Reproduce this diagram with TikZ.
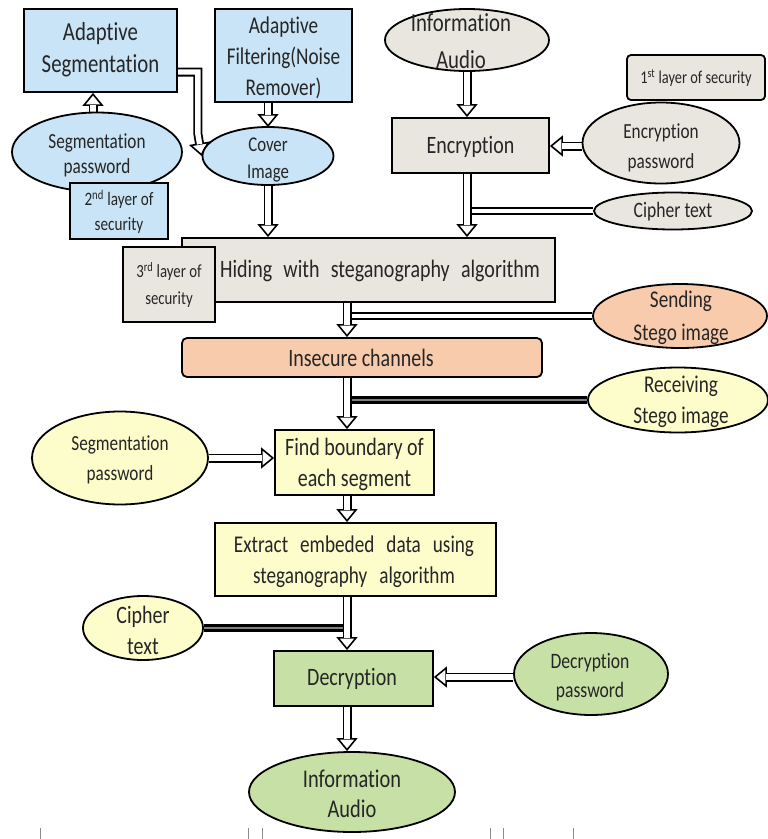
\documentclass[tikz,border=0pt]{standalone}
\usepackage{fontspec}
\setmainfont[FakeStretch=0.8, Ligatures=NoCommon, RawFeature={-liga;-clig}]{Carlito}
\usetikzlibrary{shapes.geometric,arrows.meta}
\pgfdeclarelayer{bottom}
\pgfdeclarelayer{links}
\pgfsetlayers{bottom,links,main}
\definecolor{blueF}{HTML}{C8E4F6}
\definecolor{grayF}{HTML}{E8E6DF}
\definecolor{orangeF}{HTML}{F8CBAD}
\definecolor{yellowF}{HTML}{FDFCCB}
\definecolor{greenF}{HTML}{C6E0A6}
\newcommand{\fsz}[2]{\fontsize{#1}{#2}\selectfont}
\newcommand{\wsp}[1]{\spaceskip=#1em plus 0pt minus 0pt\relax}
\begin{document}
\begin{tikzpicture}[x=1pt,y=-1pt,
  box/.style={draw=black, line width=1.8pt, inner sep=0pt, rectangle},
  ell/.style={draw=black, line width=1.8pt, inner sep=0pt, ellipse},
  txt/.style={align=center, inner sep=0pt, text=black!85},
  harr/.style={line width=9pt, -{Triangle[open,fill=white,length=13pt,width=21pt,line width=1.6pt]},
     postaction={draw=white, line width=5.4pt, -, shorten >=12pt}},
  dline/.style={line width=8pt, postaction={draw=white, line width=3.6pt}},
  dlinedark/.style={line width=8.5pt, postaction={draw=black!50, line width=2pt}}]
\useasboundingbox (0,0) rectangle (768,839);
\begin{pgfonlayer}{bottom}
\fill[white] (0,0) rectangle (768,839);
\end{pgfonlayer}
\coordinate (spine) at (347,0);

% ---------- top left (blue) ----------
\node[box, fill=blueF, minimum width=153pt, minimum height=83pt] (seg) at (100.5,50.5) {};
\node[txt, font=\fsz{26}{32}] (seg-t) at (100.5,50) {Adaptive\\Segmentation};
\node[box, fill=blueF, minimum width=137pt, minimum height=93pt] (filt) at (283.5,55.5) {};
\node[txt, font=\fsz{24}{31}] (filt-t) at (283.5,58) {Adaptive\\Filtering(Noise\\Remover)};
\node[ell, fill=blueF, minimum width=170pt, minimum height=79pt] (segpw) at (97,152) {};
\node[txt, font=\fsz{21.5}{25}] (segpw-t) at (97,155) {Segmentation\\password};
\node[box, fill=blueF, minimum width=98pt, minimum height=56pt] (l2) at (119,211) {};
\node[txt, font=\fsz{19}{25}] (l2-t) at (119,212) {2\textsuperscript{nd} layer of\\security};
\node[ell, fill=blueF, minimum width=131pt, minimum height=58pt] (cover) at (268,156) {};
\node[txt, font=\fsz{21}{27}] (cover-t) at (268,160) {Cover\\Image};

% ---------- top right (gray) ----------
\node[ell, fill=grayF, minimum width=164pt, minimum height=62pt] (ia1) at (467,40) {};
\node[txt, font=\fsz{26}{37}] (ia1-t) at (461,41) {Information\\Audio};
\node[box, fill=grayF, rounded corners=4pt, minimum width=138pt, minimum height=45pt] (l1) at (696,77.5) {};
\node[txt, font=\fsz{18}{22}] (l1-t) at (696,78) {1\textsuperscript{st} layer of security};
\node[box, fill=grayF, minimum width=157pt, minimum height=55pt] (enc) at (470.5,145.5) {};
\node[txt, font=\fsz{25}{30}] (enc-t) at (470.5,147) {Encryption};
\node[ell, fill=grayF, minimum width=157pt, minimum height=81pt] (encpw) at (661,143) {};
\node[txt, font=\fsz{21.5}{30}] (encpw-t) at (661,148) {Encryption\\password};
\node[ell, fill=grayF, minimum width=158pt, minimum height=37pt] (ct1) at (673,211) {};
\node[txt, font=\fsz{22}{26}] (ct1-t) at (673,212) {Cipher text};

% ---------- hiding ----------
\node[box, fill=grayF, minimum width=373pt, minimum height=64pt] (hid) at (368.5,270) {};
\node[txt, font=\fsz{25}{30}] (hid-t) at (380,271) {\wsp{0.45}Hiding with steganography algorithm};
\node[box, fill=grayF, minimum width=92pt, minimum height=75pt] (l3) at (169,284.5) {};
\node[txt, font=\fsz{18.5}{27}] (l3-t) at (169,285) {3\textsuperscript{rd} layer of\\security};

% ---------- channel ----------
\node[ell, fill=orangeF, minimum width=174pt, minimum height=64pt] (send) at (680,316) {};
\node[txt, font=\fsz{24}{33}] (send-t) at (681,318) {Sending\\Stego image};
\node[box, fill=orangeF, rounded corners=5pt, minimum width=360pt, minimum height=39pt] (ins) at (362,357.5) {};
\node[txt, font=\fsz{25}{30}] (ins-t) at (361,358) {Insecure channels};
\node[ell, fill=yellowF, minimum width=180pt, minimum height=65pt] (recv) at (678,400) {};
\node[txt, font=\fsz{24}{31}] (recv-t) at (681,402) {Receiving\\Stego image};

% ---------- extraction (yellow) ----------
\node[ell, fill=yellowF, minimum width=176pt, minimum height=93pt] (segpw2) at (120,458) {};
\node[txt, font=\fsz{21.5}{30}] (segpw2-t) at (120,460) {Segmentation\\password};
\node[box, fill=yellowF, minimum width=159pt, minimum height=65pt] (find) at (354.5,462.5) {};
\node[txt, font=\fsz{25}{31}] (find-t) at (354.5,464) {Find boundary of\\each segment};
\node[box, fill=yellowF, minimum width=281pt, minimum height=73pt] (ext) at (355.5,559.5) {};
\node[txt, font=\fsz{24}{31}] (ext-t) at (354,562) {\wsp{0.5}Extract embeded data using\\\wsp{0.5}steganography algorithm};
\node[ell, fill=yellowF, minimum width=120pt, minimum height=64pt] (ct2) at (143,628) {};
\node[txt, font=\fsz{25}{31}] (ct2-t) at (143,630) {Cipher\\text};

% ---------- decryption (green) ----------
\node[box, fill=greenF, minimum width=159pt, minimum height=55pt] (dec) at (353.5,678.5) {};
\node[txt, font=\fsz{25}{30}] (dec-t) at (352,679) {Decryption};
\node[ell, fill=greenF, minimum width=154pt, minimum height=82pt] (decpw) at (591,674) {};
\node[txt, font=\fsz{22}{29}] (decpw-t) at (590,677) {Decryption\\password};
\node[ell, fill=greenF, minimum width=206pt, minimum height=80pt] (ia2) at (352,792) {};
\node[txt, font=\fsz{25.5}{30}] (ia2-t) at (352,794) {Information\\Audio};

% ---------- connectors ----------
\begin{pgfonlayer}{links}
\draw[harr] ([xshift=-4pt]segpw.north) -- ([xshift=-4pt]segpw.north |- seg.south);
\draw[harr] ([yshift=-21.5pt]seg.east) -- ++(20,0) -- ++(0,62) -- (cover.west);
\draw[harr] (cover.north |- filt.south) -- ([yshift=-1pt]cover.north);
\draw[harr] (cover.south) -- (cover.south |- hid.north);
\draw[harr] (ia1.south) -- (ia1.south |- enc.north);
\draw[harr] ([yshift=-3pt]encpw.west) -- ([yshift=-3pt]encpw.west -| enc.east);
\draw[dline] (ct1.west) -- ([xshift=1pt]ct1.west -| ia1.south);
\draw[harr] (enc.south -| ia1.south) -- (ia1.south |- hid.north);
\draw[dline] (send.west) -- ([xshift=1pt]send.west -| spine);
\draw[harr] (hid.south -| spine) -- (ins.north -| spine);
\draw[dlinedark] (recv.west) -- ([xshift=1pt]recv.west -| spine);
\draw[harr] (ins.south -| spine) -- (find.north -| spine);
\draw[harr] (segpw2.east) -- (segpw2.east -| find.west);
\draw[harr] (find.south -| spine) -- (ext.north -| spine);
\draw[dlinedark] (ct2.east) -- ([xshift=1pt]ct2.east -| spine);
\draw[harr] (ext.south -| spine) -- (dec.north -| spine);
\draw[harr] ([yshift=-3pt]decpw.west) -- ([yshift=-3pt]decpw.west -| dec.east);
\draw[harr] (dec.south -| spine) -- (ia2.north -| spine);
\end{pgfonlayer}

% faint marks at the bottom edge
\foreach \tx in {40,248,262,490,503,573}
  \draw[black!45, line width=0.9pt] (\tx,828) -- (\tx,839);
\end{tikzpicture}
\end{document}
